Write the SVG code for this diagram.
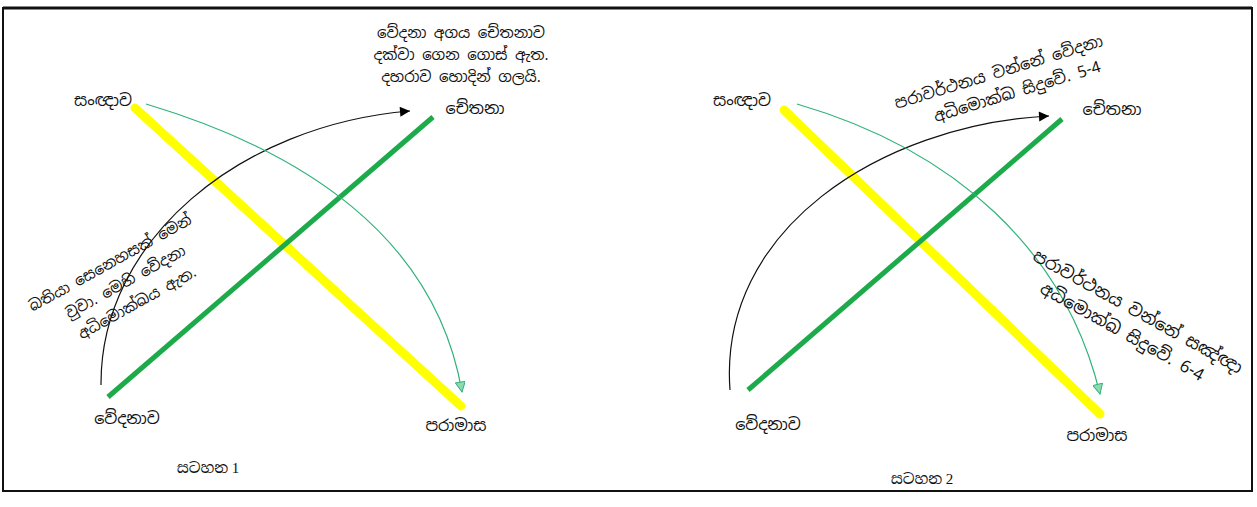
<svg xmlns="http://www.w3.org/2000/svg" width="1257" height="507" viewBox="0 0 1257 507">
<style>
.t{font-family:"Noto Sans Sinhala","Noto Serif Sinhala","Lohit Sinhala","Iskoola Pota","Noto Sans",sans-serif;font-size:15px;fill:#111}
.l{font-size:16px}
.r{font-size:16px}
.r2{font-size:17px}
.c{text-anchor:middle}
.cap{font-family:"Liberation Serif","Noto Serif Sinhala","Noto Sans Sinhala",serif;font-size:15px;fill:#111}
.y{stroke:#FFFF00;stroke-width:9;stroke-linecap:round;fill:none}
.g{stroke:#1DAA4A;stroke-width:5;fill:none}
.k{stroke:#111;stroke-width:1.2;fill:none}
.gt{stroke:#2FB27A;stroke-width:1.2;fill:none}
</style>
<defs>
<marker id="ak" viewBox="0 0 10 10" refX="10" refY="5" markerWidth="13" markerHeight="10" markerUnits="userSpaceOnUse" orient="auto"><path d="M0,0 L10,5 L0,10 Z" fill="#000"/></marker>
<marker id="ag" viewBox="0 0 10 10" refX="10" refY="5" markerWidth="13" markerHeight="10" markerUnits="userSpaceOnUse" orient="auto"><path d="M0,0 L10,5 L0,10 Z" fill="#8fd8b0" stroke="#2FB27A" stroke-width="1"/></marker>
</defs>
<rect x="0" y="0" width="1257" height="507" fill="#fff"/>
<rect id="frame" x="3" y="8" width="1249" height="483" fill="none" stroke="#111" stroke-width="2"/>
<line x1="3" y1="8" x2="1252" y2="8" stroke="#111" stroke-width="3"/>

<g id="connectors">
<line class="y" x1="135" y1="108" x2="461" y2="406"/>
<line class="g" x1="108" y1="397" x2="433" y2="117"/>
<path class="k" d="M101,385 C100,240 240,125 410,111" marker-end="url(#ak)"/>
<path class="gt" d="M146,104 C300,150 435,235 462,392" marker-end="url(#ag)"/>

<line class="y" x1="784" y1="110" x2="1100" y2="414"/>
<line class="g" x1="748" y1="390" x2="1062" y2="119"/>
<path class="k" d="M730,390 C718,230 880,125 1049,116" marker-end="url(#ak)"/>
<path class="gt" d="M797,104 C955,150 1065,250 1100,394" marker-end="url(#ag)"/>
</g>

<g id="n-sanjnava1"><text class="t l c" x="103" y="106">සංඥාව</text></g>
<g id="n-chetana1"><text class="t l c" x="475" y="114">චේතනා</text></g>
<g id="n-vedanava1"><text class="t l c" x="127" y="424">වේදනාව</text></g>
<g id="n-paramasa1"><text class="t l c" x="456" y="431">පරාමාස</text></g>
<g id="cap1"><text class="cap c" x="208" y="473">සටහන 1</text></g>
<g id="note1">
<text class="t c" x="461" y="38">වේදනා අගය  චේතනාව</text>
<text class="t c" x="461" y="60">දක්වා ගෙන ගොස් ඇත.</text>
<text class="t c" x="461" y="82">දහරාව හොදින් ගලයි.</text>
</g>
<g id="note2" transform="translate(122,284) rotate(-29)">
<text class="t c" x="0" y="-19">බතියා සෙනෙහසක් මෙන්</text>
<text class="t c" x="4" y="5">වුවා. මෙහි වේදනා</text>
<text class="t c" x="4" y="29">අධිමොක්ඛය ඇත.</text>
</g>

<g id="n-sanjnava2"><text class="t l c" x="742" y="106">සංඥාව</text></g>
<g id="n-chetana2"><text class="t l c" x="1112" y="115">චේතනා</text></g>
<g id="n-vedanava2"><text class="t l c" x="768" y="430">වේදනාව</text></g>
<g id="n-paramasa2"><text class="t l c" x="1097" y="441">පරාමාස</text></g>
<g id="cap2"><text class="cap c" x="922" y="484">සටහන 2</text></g>
<g id="note3" transform="translate(1002,83) rotate(-17)">
<text class="t r c" x="0" y="-6">පරාවර්ථනය වන්නේ වේදනා</text>
<text class="t r c" x="12" y="18">අධිමොක්ඛ සිදුවේ. 5-4</text>
</g>
<g id="note4" transform="translate(1132,322) rotate(29)">
<text class="t r2 c" x="0" y="-6">පරාවර්ථනය වන්නේ සඤ්ඥා</text>
<text class="t r2 c" x="-4" y="19">අධිමොක්ඛ සිදුවේ. 6-4</text>
</g>
</svg>
